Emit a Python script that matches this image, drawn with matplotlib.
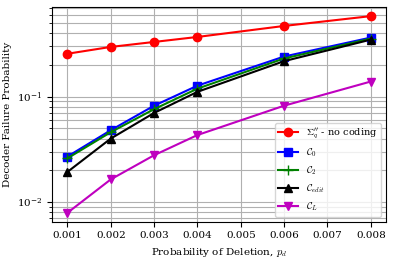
import matplotlib
matplotlib.use("Agg")
import matplotlib.pyplot as plt

plt.rcParams['font.family'] = 'DejaVu Serif'
plt.rcParams['mathtext.fontset'] = 'cm'

p_d = [0.001, 0.002, 0.003, 0.004, 0.006, 0.008]
no_coding = [0.255, 0.296, 0.33, 0.368, 0.468, 0.58]
c0 = [0.027, 0.048, 0.082, 0.127, 0.24, 0.363]
c2 = [0.026, 0.046, 0.076, 0.119, 0.23, 0.355]
cedit = [0.0193, 0.040, 0.070, 0.111, 0.217, 0.347]
cl = [0.0079, 0.0164, 0.0278, 0.0432, 0.082, 0.139]

labels = [r"$\Sigma_q^{\prime\prime}$ - no coding", r"$\mathcal{C}_0$",
          r"$\mathcal{C}_2$", r"$\mathcal{C}_{edit}$", r"$\mathcal{C}_L$"]

fig, ax = plt.subplots(figsize=(3.93, 2.64), dpi=100)
ax.semilogy(p_d, no_coding, 'r-o', label=labels[0], markersize=6)
ax.semilogy(p_d, c0, 'b-s', label=labels[1], markersize=6)
ax.semilogy(p_d, c2, 'g-+', label=labels[2], markersize=7)
ax.semilogy(p_d, cedit, 'k-^', label=labels[3], markersize=6)
ax.semilogy(p_d, cl, 'm-v', label=labels[4], markersize=6)

ax.set_ylim(0.0065, 0.71)
ax.set_xlim(0.00065, 0.00835)
ax.grid(True, which='both', color='#b0b0b0', linewidth=0.8)
ax.set_xlabel(r"Probability of Deletion, $p_d$", fontsize=7.5)
ax.set_ylabel("Decoder Failure Probability", fontsize=7.5)
ax.tick_params(labelsize=7.5)
ax.legend(loc='lower right', fontsize=7, labelspacing=0.55)
fig.subplots_adjust(left=0.133, right=0.982, top=0.974, bottom=0.16)
fig.savefig("out.png", dpi=100)
